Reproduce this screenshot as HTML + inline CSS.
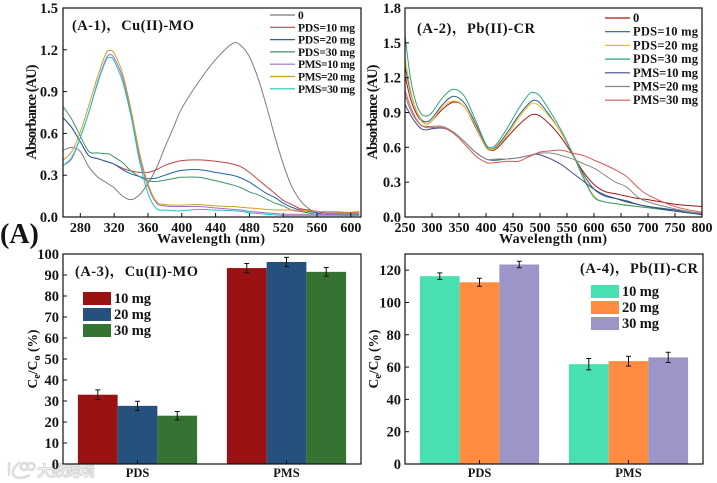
<!DOCTYPE html>
<html lang="en">
<head>
<meta charset="utf-8">
<title>Absorbance spectra and Ce/C0 bar charts</title>
<style>
html,body{margin:0;padding:0;background:#fff}
svg{display:block;filter:blur(.35px)}
text{font-family:"Liberation Serif","Noto Serif CJK SC",serif;font-weight:bold;fill:#141414}
</style>
</head>
<body>
<svg id="figure" xmlns="http://www.w3.org/2000/svg" width="717" height="483" viewBox="0 0 717 483">
<text x="0" y="243" font-size="28">(A)</text>
<g>
<path d="M9 462 L9 476 M20 462 Q10 470 14 476 Q20 480 30 475 M24 463 a3.5 3.5 0 1 0 .1 0 M31 463 a3.5 3.5 0 1 0 .1 0" fill="none" stroke="#dcdcdc" stroke-width="2.4"/>
<text x="37" y="476" font-size="15" textLength="58" style="fill:#f2f2f2;stroke:#d2d2d2;stroke-width:.8;font-family:'Noto Sans CJK SC',sans-serif">大数跨境</text>
</g>
</svg>
<script>
/* Panel A-1 data */
const wlA1 = [260,270,280,290,300,310,315,320,330,340,350,360,370,380,390,400,420,440,460,470,480,490,500,510,520,530,540,550,560,570,580,590,600,610];
const a1Zero = [.48,.50,.47,.36,.29,.25,.23,.21,.15,.125,.16,.24,.35,.50,.64,.78,.97,1.13,1.245,1.23,1.15,1.0,.80,.58,.38,.22,.12,.06,.03,.02,.02,.015,.015,.015];
const a1Pds10 = [.71,.64,.54,.44,.42,.40,.39,.38,.35,.33,.32,.32,.34,.37,.39,.405,.41,.40,.38,.36,.32,.27,.22,.17,.12,.09,.06,.05,.04,.03,.03,.03,.03,.03];
const a1Pds20 = [.71,.64,.54,.44,.42,.40,.39,.38,.34,.31,.29,.275,.28,.30,.32,.335,.34,.32,.30,.28,.25,.21,.17,.14,.10,.07,.05,.04,.03,.02,.02,.02,.02,.02];
const a1Pds30 = [.79,.70,.58,.47,.46,.455,.45,.43,.39,.33,.29,.26,.255,.265,.275,.285,.285,.26,.23,.21,.18,.16,.13,.10,.08,.05,.04,.03,.02,.02,.02,.015,.015,.015];
const a1Pms10 = [.37,.42,.57,.75,.96,1.13,1.165,1.14,1.0,.74,.43,.22,.10,.08,.075,.075,.075,.065,.055,.05,.04,.035,.03,.025,.02,.02,.02,.02,.02,.02,.02,.02,.02,.02];
const a1Pms20 = [.41,.47,.61,.80,1.0,1.17,1.195,1.175,1.03,.77,.46,.24,.11,.09,.085,.085,.09,.08,.075,.07,.065,.06,.055,.05,.05,.05,.045,.045,.04,.04,.04,.035,.035,.04];
const a1Pms30 = [.37,.43,.57,.75,.95,1.12,1.145,1.12,.97,.72,.40,.17,.06,.05,.045,.045,.055,.05,.045,.04,.03,.025,.02,.015,.01,.01,.01,.01,.01,.01,.01,.01,.01,.01];
const a1Legend = ["0","PDS=10 mg","PDS=20 mg","PDS=30 mg","PMS=10 mg","PMS=20 mg","PMS=30 mg"];
const a1XTicks = [280,320,360,400,440,480,520,560,600];
const a1YTicks = [0,.3,.6,.9,1.2,1.5];

/* Panel A-2 data */
const wlA2 = [250,260,270,280,290,300,320,340,360,380,400,410,420,440,460,480,490,500,520,540,560,580,600,620,640,660,680,700,750,800];
const a2Zero = [1.22,1.02,.90,.83,.80,.83,.93,.99,.95,.78,.60,.575,.59,.69,.79,.87,.885,.87,.79,.68,.54,.39,.28,.22,.20,.18,.16,.15,.11,.09];
const a2Pds10 = [1.30,1.08,.93,.84,.82,.85,.97,1.04,.98,.81,.61,.585,.61,.73,.87,.98,1.005,.98,.86,.72,.55,.37,.24,.18,.16,.14,.11,.09,.06,.02];
const a2Pds20 = [1.38,1.10,.93,.83,.80,.83,.95,1.0,.95,.79,.60,.58,.60,.71,.85,.96,.98,.95,.85,.72,.55,.35,.18,.13,.115,.105,.09,.08,.05,.03];
const a2Pds30 = [1.56,1.2,.99,.89,.87,.90,1.03,1.10,1.04,.84,.625,.60,.63,.77,.93,1.06,1.07,1.04,.90,.74,.55,.34,.17,.13,.115,.10,.09,.08,.05,.03];
const a2Pms10 = [.97,.88,.81,.76,.75,.76,.765,.73,.65,.56,.50,.49,.49,.50,.51,.53,.54,.535,.50,.45,.38,.31,.24,.19,.16,.13,.11,.09,.05,.02];
const a2Pms20 = [1.05,.92,.84,.79,.78,.78,.78,.73,.65,.56,.50,.495,.50,.50,.51,.53,.54,.55,.55,.53,.50,.46,.42,.36,.30,.26,.175,.13,.07,.03];
const a2Pms30 = [1.09,.95,.85,.79,.77,.77,.77,.72,.63,.53,.47,.465,.47,.48,.48,.52,.54,.56,.57,.575,.55,.53,.49,.45,.405,.35,.26,.19,.09,.04];
const a2Legend = ["0","PDS=10 mg","PDS=20 mg","PDS=30 mg","PMS=10 mg","PMS=20 mg","PMS=30 mg"];
const a2XTicks = [250,300,350,400,450,500,550,600,650,700,750,800];
const a2YTicks = [0,.3,.6,.9,1.2,1.5,1.8];

/* Panel A-3 data */
const barCategories = ["PDS","PMS"];
const barLegend = ["10 mg","20 mg","30 mg"];
const a3Values = [[33,27.7,23],[93.3,96.2,91.5]];
const a3Errors = [[2.3,2.2,2],[2.2,2.2,2.1]];
const a3YTicks = [0,10,20,30,40,50,60,70,80,90,100];

/* Panel A-4 data */
const a4Values = [[116.3,112.5,123.5],[61.8,63.7,66]];
const a4Errors = [[2,2.5,2],[3.5,3,3.2]];
const a4YTicks = [0,20,40,60,80,100,120];

const NS = "http://www.w3.org/2000/svg";
const fig = document.getElementById("figure");

function mk(parent, tag, attrs, txt){
  const e = document.createElementNS(NS, tag);
  for (const k in attrs) e.setAttribute(k, attrs[k]);
  if (txt !== undefined) e.textContent = txt;
  parent.appendChild(e);
  return e;
}
function scale(d0, d1, r0, r1){ return v => r0 + (v - d0) * (r1 - r0) / (d1 - d0); }
function smooth(pts){
  let d = "M" + pts[0][0].toFixed(2) + " " + pts[0][1].toFixed(2);
  for (let i = 0; i < pts.length - 1; i++){
    const p0 = pts[Math.max(i-1,0)], p1 = pts[i], p2 = pts[i+1], p3 = pts[Math.min(i+2,pts.length-1)];
    const c1x = p1[0] + (p2[0]-p0[0])/6, c1y = p1[1] + (p2[1]-p0[1])/6;
    const c2x = p2[0] - (p3[0]-p1[0])/6, c2y = p2[1] - (p3[1]-p1[1])/6;
    d += "C" + c1x.toFixed(2) + " " + c1y.toFixed(2) + " " + c2x.toFixed(2) + " " + c2y.toFixed(2) + " " + p2[0].toFixed(2) + " " + p2[1].toFixed(2);
  }
  return d;
}
function frame(g, b){
  const r = mk(g, "rect", {x:b.l, y:b.t, width:b.r-b.l, height:b.b-b.t, fill:"none", stroke:"#111", "stroke-width":1.2});
  
  
}
function yAxis(g, ticks, y, b, fmt, labelX){
  ticks.forEach(v => {
    const t = mk(g, "line", {x1:b.l, x2:b.l+4, y1:y(v), y2:y(v), stroke:"#111", "stroke-width":1});
    
    
    const l = mk(g, "text", {x:labelX, y:y(v)+5, "text-anchor":"end", "font-size":14.5}, fmt(v));
    
    
  });
}
function xAxisNum(g, ticks, x, b){
  ticks.forEach(v => {
    const t = mk(g, "line", {x1:x(v), x2:x(v), y1:b.b, y2:b.b-4, stroke:"#111", "stroke-width":1});
    
    
    const l = mk(g, "text", {x:x(v), y:b.b+15, "text-anchor":"middle", "font-size":14}, String(v));
    
    
  });
}
function title(g, s, x, y, w){
  const t = mk(g, "text", {x:x, y:y, "font-size":14.5, textLength:w, lengthAdjust:"spacing"}, s);
  
  
}
function linePanel(o){
  const g = mk(fig, "g", {});
  
  
  const b = o.box;
  const x = scale(o.xd[0], o.xd[1], b.l, b.r);
  const y = scale(o.yd[0], o.yd[1], b.b, b.t);
  o.series.forEach((s, i) => {
    const pts = s.map((v, j) => [x(o.wl[j]), y(v)]);
    const p = mk(g, "path", {d:smooth(pts), fill:"none", stroke:o.colors[i], "stroke-width":1});
    
    
  });
  frame(g, b);
  yAxis(g, o.yTicks, y, b, v => v.toFixed(1), o.yLabelX);
  xAxisNum(g, o.xTicks, x, b);
  title(g, o.title, o.tx, o.ty, o.tw);
  o.legend.forEach((s, i) => {
    const ly = o.legY + i * o.legStep;
    const l = mk(g, "line", {x1:o.legX, x2:o.legX+25, y1:ly, y2:ly, stroke:o.colors[i], "stroke-width":1.2});
    
    
    const a = {x:o.legX+28, y:ly+4, "font-size":o.legFont};
    if (i > 0) a.textLength = o.legW;
    const t = mk(g, "text", a, s);
    
    
  });
  const xt = mk(g, "text", {x:o.xtX, y:243, "text-anchor":"middle", "font-size":14, textLength:108, lengthAdjust:"spacing"}, "Wavelength (nm)");
  
  
  const yt = mk(g, "text", {transform:"translate("+o.ytX+",112) rotate(-90)", "text-anchor":"middle", "font-size":14.5, textLength:95, lengthAdjust:"spacing"}, "Absorbance (AU)");
  
  
}
function barPanel(o){
  const g = mk(fig, "g", {});
  
  
  const b = o.box;
  const y = scale(0, o.yMax, b.b, b.t);
  const band = (b.r - b.l) / barCategories.length;
  const bw = band * 0.8 / 3;
  barCategories.forEach((c, i) => {
    const cx = b.l + band * (i + .5);
    o.values[i].forEach((v, j) => {
      const bx = cx - 1.5 * bw + j * bw;
      const r = mk(g, "rect", {x:bx, y:y(v), width:bw, height:b.b-y(v), fill:o.colors[j]});
      
      
      const e = o.errors[i][j], mx = bx + bw/2;
      const w = mk(g, "path", {d:"M"+mx+" "+y(v+e)+"V"+y(v-e)+"M"+(mx-2.5)+" "+y(v+e)+"h5M"+(mx-2.5)+" "+y(v-e)+"h5", stroke:"#111", "stroke-width":1, fill:"none"});
      
      
    });
    const t = mk(g, "line", {x1:cx, x2:cx, y1:b.b, y2:b.b-4, stroke:"#111", "stroke-width":1});
    
    
    const l = mk(g, "text", {x:cx, y:477, "text-anchor":"middle", "font-size":12.5}, c);
    
    
  });
  frame(g, b);
  yAxis(g, o.yTicks, y, b, v => String(v), o.yLabelX);
  title(g, o.title, o.tx, o.ty, o.tw);
  barLegend.forEach((s, i) => {
    const sy = o.legY + i * 16;
    const r = mk(g, "rect", {x:o.legX, y:sy, width:28, height:13, fill:o.colors[i]});
    
    
    const t = mk(g, "text", {x:o.legX+31, y:sy+11, "font-size":14.5, textLength:37}, s);
    
    
  });
  const yt = mk(g, "text", {transform:"translate("+o.ytX+",359) rotate(-90)", "text-anchor":"middle", "font-size":13.5});
  
  
  mk(yt, "tspan", {}, "C");
  mk(yt, "tspan", {dy:3, "font-size":10.5}, "e");
  mk(yt, "tspan", {dy:-3}, "/C");
  mk(yt, "tspan", {dy:3, "font-size":10.5}, o.sub);
  mk(yt, "tspan", {dy:-3}, " (%)");
}

linePanel({name:"panel-a1-cu-mo", box:{l:63,r:361,t:8,b:217}, xd:[259.5,612], yd:[0,1.5], wl:wlA1,
  series:[a1Zero,a1Pds10,a1Pds20,a1Pds30,a1Pms10,a1Pms20,a1Pms30],
  colors:["#7c7c7c","#c04444","#2462a4","#3d9468","#a868c4","#c8a224","#22c4c4"],
  xTicks:a1XTicks, yTicks:a1YTicks, yLabelX:58, title:"(A-1)，Cu(II)-MO", tx:72, ty:30, tw:122,
  legend:a1Legend, legX:270, legY:15, legStep:12.3, legFont:11.5, legW:57, xtX:211, ytX:36});
linePanel({name:"panel-a2-pb-cr", box:{l:405,r:702,t:8,b:217}, xd:[250,800], yd:[0,1.8], wl:wlA2,
  series:[a2Zero,a2Pds10,a2Pds20,a2Pds30,a2Pms10,a2Pms20,a2Pms30],
  colors:["#a01818","#2a5a88","#f0c020","#30a080","#404880","#888888","#d85858"],
  xTicks:a2XTicks, yTicks:a2YTicks, yLabelX:401, title:"(A-2)，Pb(II)-CR", tx:417, ty:33, tw:118,
  legend:a2Legend, legX:605, legY:18, legStep:13.7, legFont:12.5, legW:65, xtX:553, ytX:377});
barPanel({name:"panel-a3-cu-mo", box:{l:63,r:361,t:254,b:464}, yMax:100, values:a3Values, errors:a3Errors,
  colors:["#9a1212","#25517e","#357332"], yTicks:a3YTicks, yLabelX:59,
  title:"(A-3)，Cu(II)-MO", tx:75, ty:276, tw:123, legX:83, legY:292, sub:"o", ytX:37});
barPanel({name:"panel-a4-pb-cr", box:{l:405,r:703,t:254,b:464}, yMax:130, values:a4Values, errors:a4Errors,
  colors:["#48e0b0","#ff8c40","#9b95c8"], yTicks:a4YTicks, yLabelX:401,
  title:"(A-4)，Pb(II)-CR", tx:580, ty:273, tw:118, legX:591, legY:285, sub:"0", ytX:378});
</script>
</body>
</html>
